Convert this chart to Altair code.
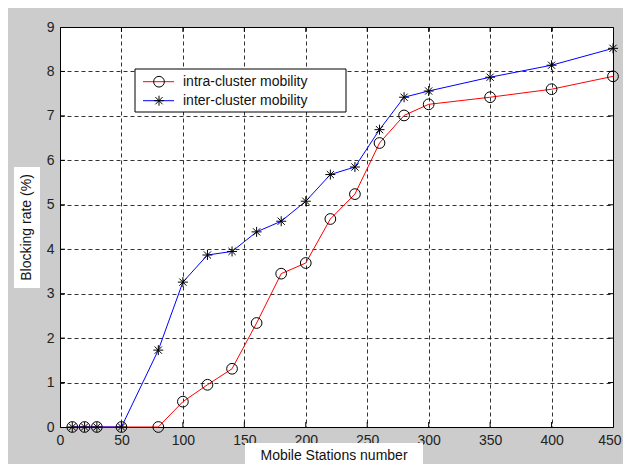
import altair as alt
import pandas as pd

# ---- data ----
stations = [10, 20, 30, 50, 80, 100, 120, 140, 160, 180, 200, 220, 240, 260, 280, 300, 350, 400, 450]
intra = [0, 0, 0, 0, 0, 0.57, 0.95, 1.31, 2.34, 3.45, 3.69, 4.68, 5.24, 6.39, 7.01, 7.26, 7.42, 7.60, 7.89]
inter = [0, 0, 0, 0, 1.73, 3.26, 3.87, 3.95, 4.39, 4.63, 5.08, 5.68, 5.85, 6.69, 7.42, 7.56, 7.87, 8.14, 8.52]
series_names = ["intra-cluster mobility", "inter-cluster mobility"]
series_colors = ["#ff0000", "#0000ff"]
x_ticks = [0, 50, 100, 150, 200, 250, 300, 350, 400, 450]
y_ticks = [0, 1, 2, 3, 4, 5, 6, 7, 8, 9]
x_title = "Mobile Stations number"
y_title = "Blocking rate (%)"

FONT = "Liberation Sans"
STAR = "M0,-1L0,1M-1,0L1,0M-0.72,-0.72L0.72,0.72M-0.72,0.72L0.72,-0.72"
W, H = 553, 400

x_scale = alt.Scale(domain=[0, 450], nice=False, zero=False)
y_scale = alt.Scale(domain=[0, 9], nice=False)
X = alt.X(
    "stations:Q",
    scale=x_scale,
    axis=alt.Axis(
        values=x_ticks,
        title=None,
        labelAlign=alt.ExprRef(expr="datum.value == 450 ? 'right' : 'center'"),
        labelOffset=alt.ExprRef(expr="datum.value == 450 ? 8 : 0"),
    ),
)
Y = alt.Y("rate:Q", scale=y_scale, axis=alt.Axis(values=y_ticks, title=None))

series_data = [intra, inter]
shapes = ["circle", STAR]
sizes = [115, 100]

one = alt.Data(values=[{"k": 1}])
layers = []

# inward tick marks (MATLAB box style)
xt = pd.DataFrame({"stations": x_ticks[1:-1]})
yt = pd.DataFrame({"rate": y_ticks[1:-1]})
layers.append(alt.Chart(xt).mark_rule(color="black", strokeWidth=1).encode(x=X, y=alt.value(H), y2=alt.value(H - 5)))
layers.append(alt.Chart(xt).mark_rule(color="black", strokeWidth=1).encode(x=X, y=alt.value(0), y2=alt.value(5)))
layers.append(alt.Chart(yt).mark_rule(color="black", strokeWidth=1).encode(y=Y, x=alt.value(0), x2=alt.value(5)))
layers.append(alt.Chart(yt).mark_rule(color="black", strokeWidth=1).encode(y=Y, x=alt.value(W), x2=alt.value(W - 5)))

for i, name in enumerate(series_names):
    d = pd.DataFrame({"stations": stations, "rate": series_data[i]})
    layers.append(alt.Chart(d).mark_line(color=series_colors[i], strokeWidth=1).encode(x=X, y=Y))
    layers.append(
        alt.Chart(d)
        .mark_point(shape=shapes[i], size=sizes[i], filled=False, stroke="black", strokeWidth=1, opacity=1)
        .encode(x=X, y=Y)
    )

# legend box
layers.append(
    alt.Chart(one).mark_rect(fill="white", stroke="black", strokeWidth=1)
    .encode(x=alt.value(75), x2=alt.value(286), y=alt.value(42), y2=alt.value(85))
)
leg_y = [54.7, 73.7]
for i, name in enumerate(series_names):
    layers.append(
        alt.Chart(one).mark_rule(color=series_colors[i], strokeWidth=1)
        .encode(x=alt.value(83), x2=alt.value(114), y=alt.value(leg_y[i]))
    )
    layers.append(
        alt.Chart(one).mark_point(shape=shapes[i], size=sizes[i], filled=False, stroke="black", strokeWidth=1, opacity=1)
        .encode(x=alt.value(99), y=alt.value(leg_y[i]))
    )
    layers.append(
        alt.Chart(one).mark_text(text=name, align="left", baseline="middle", font=FONT, fontSize=14, color="#111")
        .encode(x=alt.value(123), y=alt.value(leg_y[i]))
    )

# axis titles on white boxes
layers.append(
    alt.Chart(one).mark_rect(fill="white")
    .encode(x=alt.value(-46), x2=alt.value(-20), y=alt.value(140), y2=alt.value(261))
)
layers.append(
    alt.Chart(one).mark_text(text=y_title, angle=270, align="center", baseline="middle", font=FONT, fontSize=14, color="#111")
    .encode(x=alt.value(-33), y=alt.value(200.5))
)
layers.append(
    alt.Chart(one).mark_rect(fill="white")
    .encode(x=alt.value(185), x2=alt.value(363), y=alt.value(416), y2=alt.value(446))
)
layers.append(
    alt.Chart(one).mark_text(text=x_title, align="center", baseline="middle", font=FONT, fontSize=14, color="#111")
    .encode(x=alt.value(274), y=alt.value(428.5))
)

chart = (
    alt.layer(*layers)
    .properties(
        width=W,
        height=H,
        background="#cccccc",
        padding={"left": 52, "top": 19, "right": 10, "bottom": 37},
        autosize=alt.AutoSizeParams(type="none"),
    )
    .configure_view(stroke="black", strokeWidth=1, fill="white")
    .configure_axis(
        grid=True,
        gridColor="#000000",
        gridDash=[4, 3],
        gridOpacity=0.8,
        gridWidth=1,
        domain=False,
        ticks=False,
        labelFont=FONT,
        labelFontSize=14,
        labelColor="#222222",
        labelPadding=6,
    )
)

chart.save("out.html", embed_options={"renderer": "svg", "actions": False})
